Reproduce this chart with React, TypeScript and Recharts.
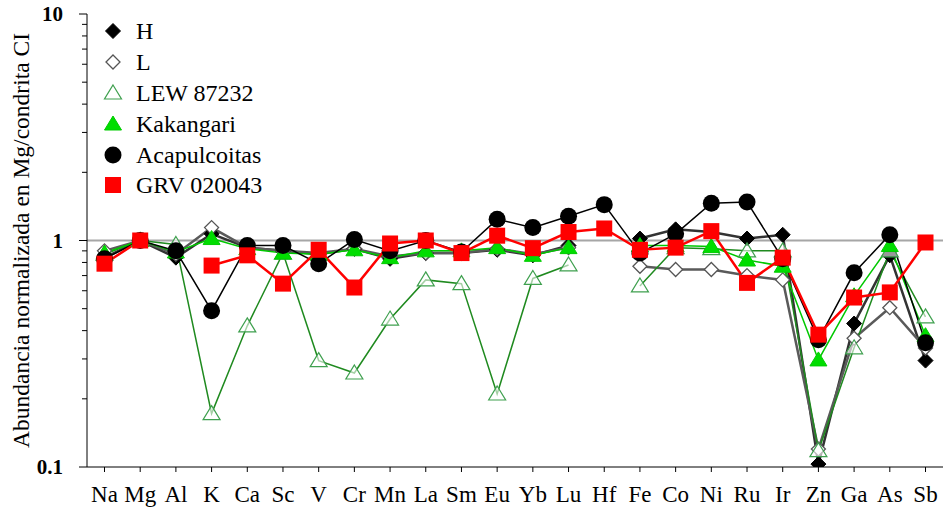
import { LineChart, Line, XAxis, YAxis, ReferenceLine, Legend } from 'recharts';

const elements = ['Na', 'Mg', 'Al', 'K', 'Ca', 'Sc', 'V', 'Cr', 'Mn', 'La', 'Sm', 'Eu', 'Yb', 'Lu', 'Hf', 'Fe', 'Co', 'Ni', 'Ru', 'Ir', 'Zn', 'Ga', 'As', 'Sb'];

const hValues = [0.84, 1.0, 0.84, 1.07, 0.93, 0.9, 0.87, 0.92, 0.83, 0.88, 0.88, 0.91, 0.86, 0.95, null, 1.02, 1.12, 1.09, 1.02, 1.06, 0.103, 0.43, 0.86, 0.295];
const lValues = [0.9, 1.0, 0.87, 1.14, 0.93, 0.9, 0.88, 0.92, 0.85, 0.88, 0.88, 0.92, 0.87, 0.93, null, 0.77, 0.745, 0.745, 0.7, 0.67, 0.12, 0.37, 0.505, 0.335];
const lewValues = [0.87, 1.0, 0.96, 0.172, 0.42, 0.88, 0.295, 0.26, 0.45, 0.67, 0.645, 0.21, 0.68, 0.78, null, 0.63, 0.93, 0.92, 0.9, 0.9, 0.118, 0.336, 0.9, 0.46];
const kakValues = [0.88, 1.0, 0.89, 1.02, 0.92, 0.88, 0.87, 0.91, 0.84, 0.9, 0.9, 0.93, 0.86, 0.93, null, 0.95, 0.95, 0.94, 0.82, 0.77, 0.297, 0.57, 0.95, 0.38];
const acapValues = [0.83, 1.0, 0.9, 0.49, 0.95, 0.95, 0.79, 1.01, 0.9, 1.0, 0.89, 1.24, 1.14, 1.28, 1.44, 0.88, 1.07, 1.46, 1.48, 0.83, 0.365, 0.72, 1.06, 0.354];
const grvValues = [0.79, 1.0, null, 0.775, 0.86, 0.645, 0.91, 0.62, 0.97, 1.0, 0.88, 1.05, 0.925, 1.09, 1.13, 0.91, 0.93, 1.1, 0.65, 0.84, 0.384, 0.56, 0.59, 0.98];

const yTicks = [0.1, 0.2, 0.3, 0.4, 0.5, 0.6, 0.7, 0.8, 0.9, 1, 2, 3, 4, 5, 6, 7, 8, 9, 10];
const majorTicks = [0.1, 1, 10];

const data = elements.map((el, i) => ({
  el,
  H: hValues[i],
  L: lValues[i],
  LEW: lewValues[i],
  Kak: kakValues[i],
  Acap: acapValues[i],
  GRV: grvValues[i],
}));

const serif = 'Liberation Serif, Times New Roman, Times, serif';

type Shape = 'diamondFilled' | 'diamondOpen' | 'triOpen' | 'triFilled' | 'circle' | 'square';

function marker(shape: Shape, cx: number, cy: number, key?: string) {
  switch (shape) {
    case 'diamondFilled':
      return <path key={key} d={`M${cx},${cy - 7.5}L${cx + 7.5},${cy}L${cx},${cy + 7.5}L${cx - 7.5},${cy}Z`} fill="#000" stroke="#000" />;
    case 'diamondOpen':
      return <path key={key} d={`M${cx},${cy - 7}L${cx + 7},${cy}L${cx},${cy + 7}L${cx - 7},${cy}Z`} fill="#fff" stroke="#555" strokeWidth={1.3} />;
    case 'triOpen':
      return <path key={key} d={`M${cx},${cy - 8}L${cx + 8.5},${cy + 6}L${cx - 8.5},${cy + 6}Z`} fill="#fff" fillOpacity={0.6} stroke="#3fa04f" strokeWidth={1.2} />;
    case 'triFilled':
      return <path key={key} d={`M${cx},${cy - 8}L${cx + 8.5},${cy + 6}L${cx - 8.5},${cy + 6}Z`} fill="#00dd00" stroke="#00cc00" />;
    case 'circle':
      return <circle key={key} cx={cx} cy={cy} r={8.5} fill="#000" />;
    default:
      return <rect key={key} x={cx - 8} y={cy - 8} width={16} height={16} fill="#ff0000" />;
  }
}

const makeDot = (shape: Shape, id: string) => (props: any) => {
  const { cx, cy, index } = props;
  if (cx == null || cy == null || props.value == null) return <g key={`${id}-${index}`} />;
  return marker(shape, cx, cy, `${id}-${index}`);
};

const LogTick = (props: any) => {
  const { x, y, payload } = props;
  const major = majorTicks.includes(payload.value);
  return (
    <g>
      <line x1={x - (major ? 8 : 5)} x2={x} y1={y} y2={y} stroke="#000" />
      {major && (
        <text x={x - 24} y={y} textAnchor="end" dominantBaseline="central" fontSize={21} fontWeight="bold" style={{ fontFamily: serif }} fill="#000">
          {payload.value}
        </text>
      )}
    </g>
  );
};

const legendItems: { label: string; shape: Shape }[] = [
  { label: 'H', shape: 'diamondFilled' },
  { label: 'L', shape: 'diamondOpen' },
  { label: 'LEW 87232', shape: 'triOpen' },
  { label: 'Kakangari', shape: 'triFilled' },
  { label: 'Acapulcoitas', shape: 'circle' },
  { label: 'GRV 020043', shape: 'square' },
];

const renderLegend = () => (
  <div>
    {legendItems.map((item) => (
      <div key={item.label} style={{ display: 'flex', alignItems: 'center', height: 30.8 }}>
        <svg width={22} height={22} style={{ marginRight: 12 }}>
          {marker(item.shape, 11, 11)}
        </svg>
        <span style={{ fontFamily: serif, fontSize: 24, color: '#000', lineHeight: 1 }}>{item.label}</span>
      </div>
    ))}
  </div>
);

export default function App() {
  return (
    <div style={{ position: 'absolute', left: 0, top: 0, background: '#fff', fontFamily: serif }}>
      <LineChart width={945} height={512} data={data} margin={{ top: 14, right: 2, bottom: 0, left: 0 }}>
        <XAxis
          dataKey="el"
          height={45}
          interval={0}
          padding={{ left: 17.5, right: 17.5 }}
          tickSize={5}
          tickMargin={14}
          stroke="#000"
          tick={{ fontSize: 23, fill: '#000', style: { fontFamily: serif } }}
        />
        <XAxis xAxisId="top" orientation="top" dataKey="el" height={0} tick={false} tickLine={false} stroke="#000" />
        <YAxis
          type="number"
          scale="log"
          domain={[0.1, 10]}
          allowDataOverflow
          ticks={yTicks}
          interval={0}
          tickLine={false}
          tickSize={0}
          tickMargin={0}
          tick={<LogTick />}
          width={87}
          stroke="#000"
          label={({ viewBox }: any) => (
            <text
              x={viewBox.x + 21}
              y={viewBox.y + viewBox.height / 2}
              transform={`rotate(-90, ${viewBox.x + 21}, ${viewBox.y + viewBox.height / 2})`}
              textAnchor="middle"
              dominantBaseline="central"
              fontSize={23.5}
              style={{ fontFamily: serif }}
              fill="#000"
            >
              Abundancia normalizada en Mg/condrita CI
            </text>
          )}
        />
        <YAxis yAxisId="right" orientation="right" width={0} tick={false} tickLine={false} stroke="#000" />
        <ReferenceLine y={1} stroke="#a6a6a6" strokeWidth={2} />
        <Line dataKey="H" stroke="#333" strokeWidth={2.5} dot={makeDot('diamondFilled', 'h')} isAnimationActive={false} />
        <Line dataKey="L" stroke="#5a5a5a" strokeWidth={2.5} dot={makeDot('diamondOpen', 'l')} isAnimationActive={false} />
        <Line dataKey="LEW" stroke="#1f8a1f" strokeWidth={1.5} dot={makeDot('triOpen', 'lew')} isAnimationActive={false} />
        <Line dataKey="Kak" stroke="#00c800" strokeWidth={1.5} dot={makeDot('triFilled', 'k')} isAnimationActive={false} />
        <Line dataKey="Acap" stroke="#000" strokeWidth={1.5} dot={makeDot('circle', 'a')} isAnimationActive={false} />
        <Line dataKey="GRV" stroke="#ff0000" strokeWidth={2.5} dot={makeDot('square', 'g')} isAnimationActive={false} />
        <Legend layout="vertical" align="center" verticalAlign="middle" content={renderLegend} wrapperStyle={{ left: 102, top: 16, width: 220 }} />
      </LineChart>
    </div>
  );
}
